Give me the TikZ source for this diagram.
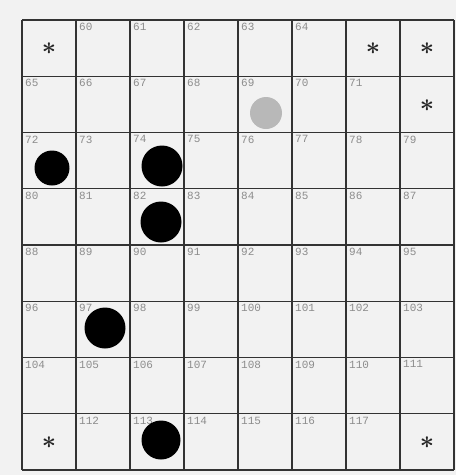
\documentclass[tikz,border=0pt]{standalone}
\usepackage{fontspec}
\newfontfamily\cellfont{Liberation Mono}
\usetikzlibrary{positioning}

\begin{document}
\begin{tikzpicture}[x=1pt, y=-1pt]

\tikzset{
  gridline/.style={draw=black!80, line width=1.1pt},
  cellnum/.style={anchor=north west, inner sep=0pt, text=black!45,
    font=\cellfont\fontsize{11}{11}\selectfont},
  blackdot/.style={circle, fill=black, inner sep=0pt},
  greydot/.style={circle, fill=black!28, inner sep=0pt},
  starmark/.style={inner sep=0pt, text=black!85, font=\boldmath\fontsize{24}{24}\selectfont}
}

% ==========================
% Page and background
% ==========================
\useasboundingbox (0,0) rectangle (456,475);
\fill[black!5] (0,0) rectangle (456,475);

% ==========================
% Grid: 8 columns x 8 rows
% ==========================
\foreach \c in {0,...,8}
  \draw[gridline] (22+54*\c,20) -- (22+54*\c,470);
\foreach \r in {0,...,8}
  \draw[gridline] (22,20+56.25*\r) -- (454,20+56.25*\r);

% ==========================
% Cell numbers (row / first number / first col / last col)
% ==========================
\foreach \r/\first/\from/\to in {0/60/1/5, 1/65/0/6, 2/72/0/7, 3/80/0/7,
    4/88/0/7, 5/96/0/7, 6/104/0/7, 7/112/1/6} {
  \foreach \c in {\from,...,\to} {
    \pgfmathtruncatemacro\n{\first+\c-\from}
    \node[cellnum] (num\n) at (22+54*\c+3,20+56.25*\r+3) {\n};
  }
}

% ==========================
% Stars in the corner cells
% ==========================
\foreach \c/\r [count=\i] in {0/0, 6/0, 7/0, 7/1, 0/7, 7/7}
  \node[starmark] (star\i) at (22+54*\c+27,20+56.25*\r+29) {$\ast$};

% ==========================
% Markers
% ==========================
\node[greydot, minimum size=32pt] (dot69) at (266,113) {};
\node[blackdot, minimum size=35pt] (dot72) at (52,168) {};
\node[blackdot, minimum size=41pt] (dot74) at (162,166) {};
\node[blackdot, minimum size=41pt] (dot82) at (161,222) {};
\node[blackdot, minimum size=41pt] (dot97) at (105,328) {};
\node[blackdot, minimum size=39pt] (dot113) at (161,440) {};

\end{tikzpicture}
\end{document}
